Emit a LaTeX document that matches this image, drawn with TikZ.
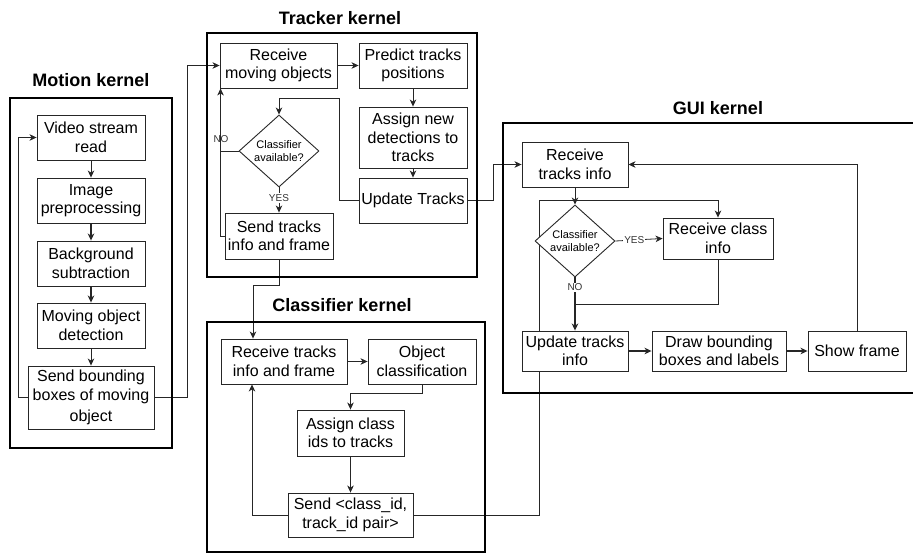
\documentclass[tikz,border=0pt]{standalone}
\usepackage{fontspec}
\setmainfont{Liberation Sans}
\usetikzlibrary{arrows.meta,shapes.geometric,backgrounds}

\begin{document}
\begin{tikzpicture}[x=1pt,y=-1pt,
  stepbox/.style={draw=black!85, line width=0.9pt, fill=white, align=center,
    inner sep=0pt, font=\fontsize{16}{18.5}\selectfont},
  decision/.style={diamond, draw=black!85, line width=0.9pt, fill=white, align=center,
    inner sep=0pt, shape aspect=1.1, minimum width=80pt, minimum height=72pt,
    font=\fontsize{11}{12.5}\selectfont},
  frame/.style={draw=black, line width=2.6pt},
  title/.style={font=\bfseries\fontsize{18}{20}\selectfont, inner sep=0pt},
  conn/.style={draw=black!85, line width=0.8pt},
  arr/.style={conn, -{Stealth[length=7pt,width=6.5pt,inset=2pt]}},
  thickarr/.style={arr, line width=1.4pt},
  lbl/.style={font=\fontsize{10}{11}\selectfont, inner sep=1pt, text=black!80}]

\useasboundingbox (0,0) rectangle (913,554);

% ---------------- kernel frames and titles ----------------
\draw[frame] (10,98) rectangle (172,448);
\node[title] (mtitle) at (91,80) {Motion kernel};
\draw[frame] (207,33) rectangle (477,277);
\node[title] (ttitle) at (340,18) {Tracker kernel};
\draw[frame] (207,322) rectangle (485,552);
\node[title] (ctitle) at (342,305) {Classifier kernel};
\draw[frame] (503,123) rectangle (918,393);
\node[title] (gtitle) at (718,108) {GUI kernel};

% ---------------- Motion kernel ----------------
\node[stepbox, minimum width=108pt, minimum height=45pt] (vsr) at (91,137.5) {Video stream\\read};
\node[stepbox, minimum width=108pt, minimum height=45pt] (ipp) at (91,200.5) {Image\\preprocessing};
\node[stepbox, minimum width=108pt, minimum height=45pt] (bgs) at (91,263.5) {Background\\subtraction};
\node[stepbox, minimum width=108pt, minimum height=45pt] (mod) at (91,325.5) {Moving object\\detection};
\node[stepbox, minimum width=126pt, minimum height=63pt] (sbb) at (91,397.5) {Send bounding\\boxes of moving\\[3pt]object};

% ---------------- Tracker kernel ----------------
\node[stepbox, minimum width=117pt, minimum height=45pt] (rmo) at (278.5,65.5) {Receive\\moving objects};
\node[stepbox, minimum width=108pt, minimum height=45pt] (ptp) at (413,65.5) {Predict tracks\\positions};
\node[stepbox, minimum width=108pt, minimum height=61pt] (and) at (413,137.5) {Assign new\\detections to\\tracks};
\node[stepbox, minimum width=108pt, minimum height=45pt] (upt) at (413,200.5) {Update Tracks};
\node[decision] (dia1) at (279,151) {Classifier\\available?};
\node[stepbox, minimum width=108pt, minimum height=46pt] (stf) at (279,236) {Send tracks\\info and frame};

% ---------------- Classifier kernel ----------------
\node[stepbox, minimum width=126pt, minimum height=45pt] (rtf) at (284,361.5) {Receive tracks\\info and frame};
\node[stepbox, minimum width=108pt, minimum height=45pt] (obc) at (422,361.5) {Object\\classification};
\node[stepbox, minimum width=107pt, minimum height=46pt] (acid) at (350.5,433) {Assign class\\ids to tracks};
\node[stepbox, minimum width=125pt, minimum height=44pt] (snd) at (350.5,515) {Send <class\_id,\\track\_id pair>};

% ---------------- GUI kernel ----------------
\node[stepbox, minimum width=106pt, minimum height=45pt] (rti) at (575,164.5) {Receive\\tracks info};
\node[decision] (dia2) at (575,241) {Classifier\\available?};
\node[stepbox, minimum width=110pt, minimum height=41pt] (rci) at (718,238.5) {Receive class\\info};
\node[stepbox, minimum width=106pt, minimum height=40pt] (uti) at (575,351) {Update tracks\\info};
\node[stepbox, minimum width=134pt, minimum height=40pt] (dbb) at (719,351) {Draw bounding\\boxes and labels};
\node[stepbox, minimum width=98pt, minimum height=40pt] (shf) at (857,351) {Show frame};

% ---------------- connectors (behind the boxes) ----------------
\begin{scope}[on background layer]
  % Motion kernel
  \draw[arr] (vsr) -- (ipp);
  \draw[thickarr] (ipp) -- (bgs);
  \draw[thickarr] (bgs) -- (mod);
  \draw[arr] (mod) -- (sbb);
  \draw[arr] (sbb.west) -- ++(-9,0) |- (vsr.west);
  \draw[arr] (sbb.east) -- ++(33,0) |- (rmo.west);

  % Tracker kernel
  \draw[arr] (rmo) -- (ptp);
  \draw[arr] (ptp) -- (and);
  \draw[arr] (and) -- (upt);
  \draw[arr] (upt.west) -- ++(-19,0) -- ++(0,-102.5) -| (dia1.north);
  \draw[conn] (dia1.west) -- ++(-18,0);
  \draw[arr] (stf.west) -| ([xshift=1pt]rmo.south west);
  \node[lbl] (no1) at (221,139) {NO};
  \draw[arr] (dia1.south) -- node[lbl, fill=white, pos=0.42] (yes1) {YES} (stf.north);
  \draw[arr] (upt.east) -- ++(26,0) |- (rti.west);
  \draw[arr] (stf.south) -- ++(0,26) -| ([xshift=-31pt]rtf.north);

  % Classifier kernel
  \draw[arr] (rtf) -- (obc);
  \draw[arr] (obc.south) -- ++(0,9) -| (acid.north);
  \draw[arr] (acid) -- (snd);
  \draw[arr] (snd.west) -| ([xshift=-32pt]rtf.south);
  \draw[arr] (snd.east) -- ++(126,0) -- ++(0,-315) -| (rci.north);

  % GUI kernel
  \draw[arr] (rti) -- (dia2);
  \draw[arr] (dia2.east) -- node[lbl, fill=white, pos=0.4] (yes2) {YES} (rci.west);
  \draw[thickarr] (dia2.south) -- node[lbl, fill=white, pos=0.19] (no2) {NO} (uti.north);
  \draw[conn] (rci.south) -- ++(0,44.5) -- ++(-143,0);
  \draw[thickarr] (uti) -- (dbb);
  \draw[thickarr] (dbb) -- (shf);
  \draw[arr] (shf.north) |- (rti.east);
\end{scope}
\end{tikzpicture}
\end{document}
